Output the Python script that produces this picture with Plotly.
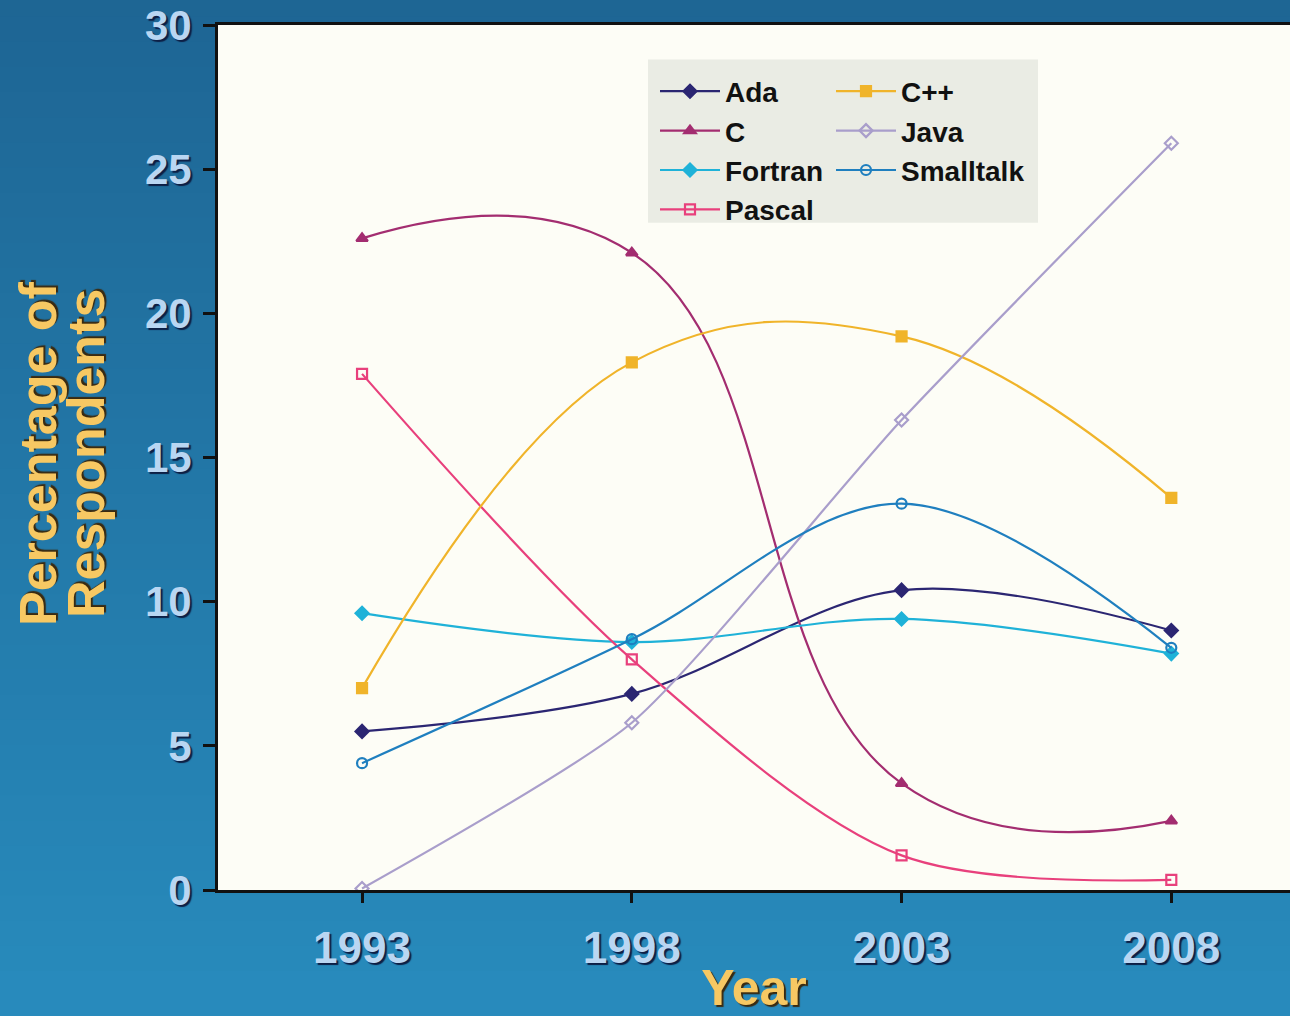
import plotly.graph_objects as go

# Survey years and share of respondents (%) per language
years = [1993, 1998, 2003, 2008]
ada = [5.5, 6.8, 10.4, 9.0]
c_lang = [22.6, 22.1, 3.7, 2.4]
fortran = [9.6, 8.6, 9.4, 8.2]
pascal = [17.9, 8.0, 1.2, 0.35]
cpp = [7.0, 18.3, 19.2, 13.6]
java = [0.05, 5.8, 16.3, 25.9]
smalltalk = [4.4, 8.7, 13.4, 8.4]

y_ticks = [0, 5, 10, 15, 20, 25, 30]

# name, values, colour, marker, curve smoothing, legend column
series = [
    ("Ada", ada, "#2b2672", "diamond", 1.0, "legend"),
    ("C", c_lang, "#a32d70", "triangle-up", 1.3, "legend"),
    ("Fortran", fortran, "#1fb2d8", "diamond", 1.0, "legend"),
    ("Pascal", pascal, "#e8407c", "square-open", 0.9, "legend"),
    ("C++", cpp, "#f0b42a", "square", 1.15, "legend2"),
    ("Java", java, "#a99ecb", "diamond-open", 0.6, "legend2"),
    ("Smalltalk", smalltalk, "#1f7fbf", "circle-open", 1.0, "legend2"),
]

fig = go.Figure()
for name, vals, color, sym, smooth, leg in series:
    fig.add_trace(go.Scatter(
        x=years, y=vals, name=name, mode="lines+markers", legend=leg,
        line=dict(color=color, width=2.2, shape="spline", smoothing=smooth),
        marker=dict(symbol=sym, size=10, color=color, line=dict(color=color, width=2.2)),
    ))

# blue backdrop with a soft vertical gradient
shapes = []
n_bands = 40
top_rgb = (30, 102, 148)
bot_rgb = (40, 138, 188)
band_h = (1016 / 875) / n_bands
for i in range(n_bands):
    t = i / (n_bands - 1)
    r = int(top_rgb[0] + (bot_rgb[0] - top_rgb[0]) * t)
    g = int(top_rgb[1] + (bot_rgb[1] - top_rgb[1]) * t)
    b = int(top_rgb[2] + (bot_rgb[2] - top_rgb[2]) * t)
    y1 = 1 + 25 / 875 - i * band_h + 0.01
    y0 = y1 - band_h - 0.012
    if i == n_bands - 1:
        y0 = -0.3
    shapes.append(dict(type="rect", xref="paper", yref="paper",
                       x0=-0.3, x1=1.05, y0=y0, y1=y1, layer="below",
                       line=dict(width=0), fillcolor=f"rgb({r},{g},{b})"))
# plotting surface
shapes.append(dict(type="rect", xref="paper", yref="paper", x0=0, x1=1, y0=0, y1=1,
                   layer="below", line=dict(width=0), fillcolor="#fdfdf6"))
# legend panel
lx0 = (648 - 218) / 1072
lx1 = (1038 - 218) / 1072
ly1 = (900 - 60) / 875
ly0 = (900 - 225) / 875
shapes.append(dict(type="rect", xref="paper", yref="paper", x0=lx0, x1=lx1, y0=ly0, y1=ly1,
                   layer="below", line=dict(width=0), fillcolor="#eaece4"))

base_family = "Liberation Sans, Arial, sans-serif"
tick_shadow = "2px 2px 1px #0d1f45"
tick_font = dict(family=base_family, size=44, color="#b9d6f2",
                 weight="bold", shadow=tick_shadow)
title_font = dict(family=base_family, size=52, color="#f7c863",
                  weight="bold", shadow="2px 2px 1px #3a2a10")
legend_font = dict(family=base_family, size=28, color="#111111", weight="bold")

legend_common = dict(
    orientation="v", xanchor="left", yanchor="top", bgcolor="rgba(0,0,0,0)",
    itemwidth=60, tracegroupgap=0, font=legend_font,
)

fig.update_layout(
    width=1290, height=1016,
    margin=dict(l=218, r=0, t=25, b=116),
    paper_bgcolor="rgb(40,138,188)",
    plot_bgcolor="rgba(0,0,0,0)",
    shapes=shapes,
    showlegend=True,
    legend=dict(legend_common, x=(655 - 218) / 1072, y=(900 - 67) / 875),
    legend2=dict(legend_common, x=(831 - 218) / 1072, y=(900 - 67) / 875),
    xaxis=dict(
        range=[1990.33, 2010.2], tickvals=years, ticktext=[str(v) for v in years],
        showgrid=False, zeroline=False, showline=True, linecolor="#111111", linewidth=3,
        mirror=True, ticks="outside", ticklen=10, tickwidth=3, tickcolor="#111111",
        tickfont=tick_font, ticklabelstandoff=7,
        title=dict(text="Year", font=dict(family=base_family, size=50, color="#f7c863",
                                          weight="bold", shadow="2px 2px 1px #3a2a10"),
                   standoff=9),
    ),
    yaxis=dict(
        range=[0, 30], tickvals=y_ticks, ticktext=[str(v) for v in y_ticks],
        showgrid=False, zeroline=False, showline=True, linecolor="#111111", linewidth=3,
        ticks="outside", ticklen=12, tickwidth=3, tickcolor="#111111",
        tickfont=dict(tick_font, size=42), ticklabelstandoff=3,
    ),
    annotations=[
        dict(text="Percentage of", textangle=-90, xref="paper", yref="paper",
             x=(38 - 218) / 1072, y=(900 - 459) / 875, xanchor="center", yanchor="middle",
             showarrow=False, font=title_font),
        dict(text="Respondents", textangle=-90, xref="paper", yref="paper",
             x=(86 - 218) / 1072, y=(900 - 459) / 875, xanchor="center", yanchor="middle",
             showarrow=False, font=title_font),
    ],
)

fig.write_html("out.html")
